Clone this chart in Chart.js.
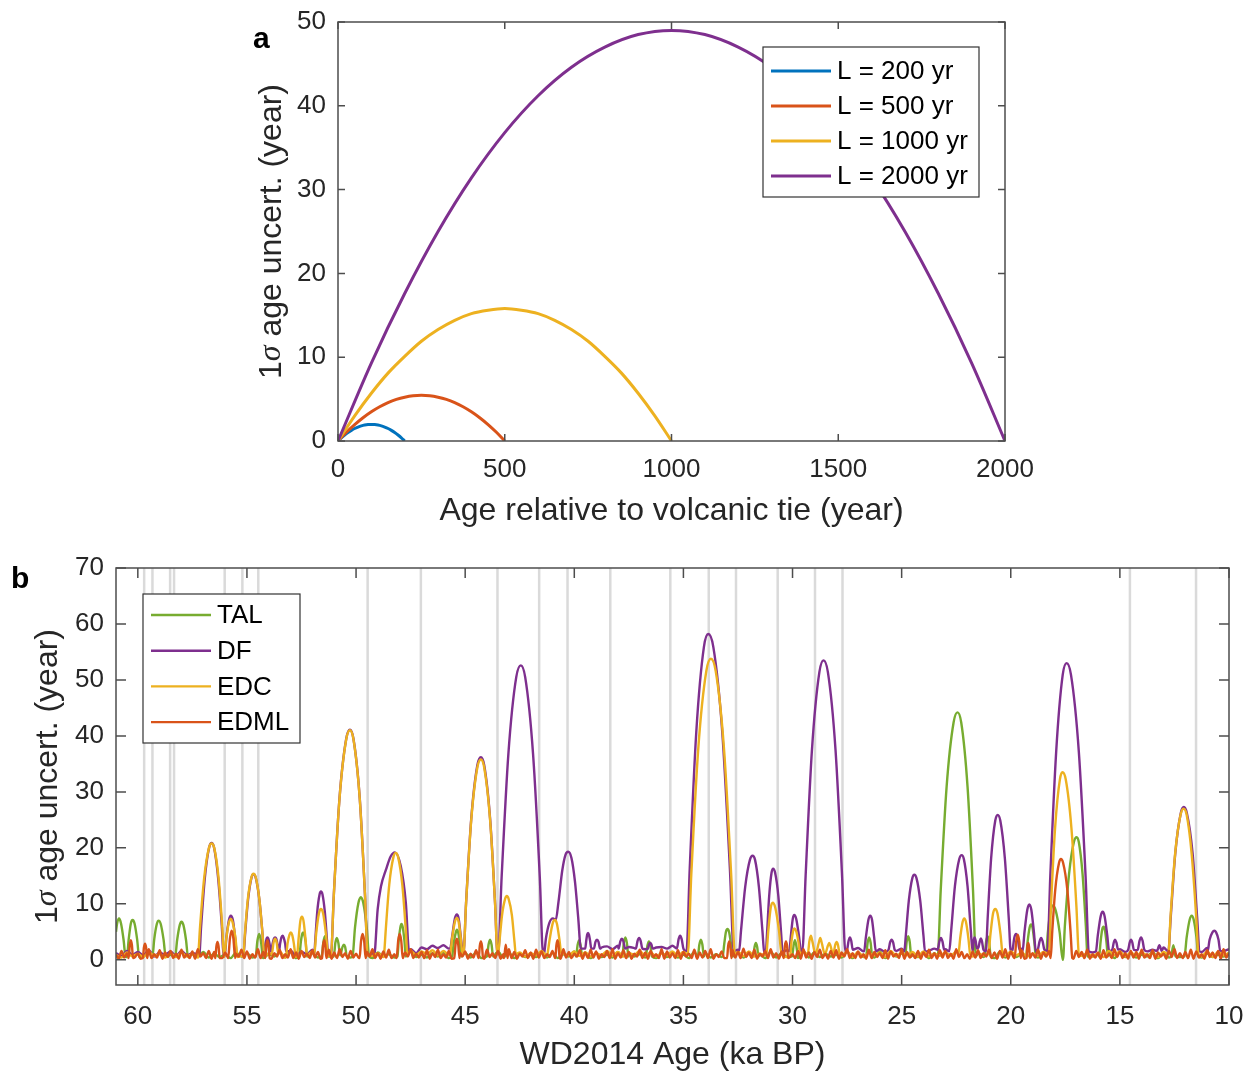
<!DOCTYPE html>
<html>
<head>
<meta charset="utf-8">
<script src="https://cdn.jsdelivr.net/npm/chart.js@4.4.0/dist/chart.umd.min.js"></script>
<style>
  body { margin: 0; background: #fff; }
  #wrap { position: relative; width: 1253px; height: 1075px; }
  canvas { position: absolute; left: 0; }
</style>
</head>
<body>
<div id="wrap">
  <canvas id="chartA" width="1253" height="540" style="top:0"></canvas>
  <canvas id="chartB" width="1253" height="535" style="top:540px"></canvas>
</div>
<script>
// ---------- panel a: uncertainty between two volcanic ties ----------
const tieAge200 = [0,10,20,30,40,50,60,70,80,90,100,110,120,130,140,150,160,170,180,190,200];
const sigma200 = [0,0.38,0.71,1.01,1.27,1.49,1.66,1.80,1.90,1.96,1.98,1.96,1.90,1.80,1.66,1.49,1.27,1.01,0.71,0.38,0];
const tieAge500 = [0,25,50,75,100,125,150,175,200,225,250,275,300,325,350,375,400,425,450,475,500];
const sigma500 = [0,1.04,1.96,2.78,3.49,4.09,4.58,4.96,5.23,5.40,5.45,5.40,5.23,4.96,4.58,4.09,3.49,2.78,1.96,1.04,0];
const tieAge1000 = [0,50,100,150,200,250,300,350,400,450,500,550,600,650,700,750,800,850,900,950,1000];
const sigma1000 = [0,3.0,5.7,8.1,10.1,11.9,13.3,14.4,15.2,15.6,15.8,15.6,15.2,14.4,13.3,11.9,10.1,8.1,5.7,3.0,0];
const tieAge2000 = [0,100,200,300,400,500,600,700,800,900,1000,1100,1200,1300,1400,1500,1600,1700,1800,1900,2000];
const sigma2000 = [0,9.3,17.6,25.0,31.4,36.8,41.2,44.6,47.0,48.5,49.0,48.5,47.0,44.6,41.2,36.8,31.4,25.0,17.6,9.3,0];
const legendA = ["L = 200 yr", "L = 500 yr", "L = 1000 yr", "L = 2000 yr"];
const xTicksA = [0, 500, 1000, 1500, 2000];
const yTicksA = [0, 10, 20, 30, 40, 50];

// ---------- panel b: uncertainty along WD2014 ----------
const xTicksB = [60, 55, 50, 45, 40, 35, 30, 25, 20, 15, 10];
const yTicksB = [0, 10, 20, 30, 40, 50, 60, 70];
const legendB = ["TAL", "DF", "EDC", "EDML"];
// ages of the volcanic tie points (grey lines)
const tieAges = [59.71,59.33,58.52,58.34,56.02,55.21,54.48,49.47,47.03,43.52,41.61,40.31,38.35,35.6,33.84,32.59,30.68,28.97,27.71,14.54,11.51];

// background noise, sampled from 61 ka down to 10 ka
const baseStart = 61;
const edmlStep = 0.125;
const edmlBase = [
  0.9,0.2,1.6,0.4,1.2,0.3,1.8,0.5, 1.1,0.2,1.5,0.6,1.9,0.3,1.0,0.4,
  1.7,0.2,1.3,0.5,1.6,0.3,1.1,0.2, 1.8,0.4,1.0,0.3,1.5,0.2,1.9,0.6,
  1.2,0.3,1.6,0.2,1.4,0.5,2.0,0.3, 1.3,0.4,1.7,0.2,1.1,0.6,1.8,0.3,
  1.5,0.2,1.0,0.4,1.9,0.3,1.4,0.5, 1.6,0.2,1.2,0.6,1.8,0.3,1.0,0.4,
  1.9,0.3,1.3,0.2,1.6,0.5,1.1,0.3, 1.7,0.4,1.4,0.2,1.0,0.6,1.8,0.2,
  1.3,0.3,1.9,0.5,1.2,0.2,1.6,0.4, 1.1,0.3,1.7,0.2,1.4,0.6,1.9,0.3,
  1.2,0.2,1.5,0.4,1.8,0.3,1.0,0.5, 1.6,0.2,1.3,0.6,1.9,0.3,1.1,0.4,
  1.4,0.3,1.7,0.2,1.2,0.5,1.8,0.3, 1.0,0.4,1.6,0.2,1.9,0.3,1.3,0.6,
  1.5,0.2,1.1,0.4,1.7,0.3,1.4,0.2, 1.8,0.5,1.2,0.3,1.6,0.2,1.0,0.4,
  1.9,0.3,1.4,0.2,1.1,0.6,1.7,0.3, 1.3,0.2,1.8,0.4,1.5,0.3,1.0,0.5,
  1.6,0.3,1.2,0.2,1.9,0.4,1.4,0.3, 1.1,0.6,1.7,0.2,1.3,0.3,1.8,0.4,
  1.5,0.2,1.0,0.5,1.6,0.3,1.9,0.2, 1.2,0.4,1.7,0.3,1.4,0.2,1.1,0.6,
  1.8,0.3,1.3,0.2,1.6,0.5,1.0,0.3, 1.9,0.2,1.5,0.4,1.2,0.3,1.7,0.2,
  1.4,0.6,1.1,0.3,1.8,0.2,1.3,0.4, 1.6,0.3,1.9,0.2,1.0,0.5,1.5,0.3,
  1.2,0.2,1.7,0.4,1.4,0.3,2.0,0.5, 1.3,0.3,1.8,0.2,1.1,0.6,1.6,0.3,
  1.9,0.4,1.2,0.2,1.5,0.3,1.7,0.5, 1.0,0.3,1.6,0.2,1.9,0.4,1.3,0.2,
  1.4,0.5,1.8,0.3,1.1,0.2,1.6,0.4, 1.7,0.2,1.3,0.6,1.9,0.3,1.2,0.3,
  1.5,0.4,1.0,0.2,1.8,0.3,1.4,0.5, 1.2,0.3,1.7,0.2,1.5,0.6,1.1,0.3,
  1.9,0.2,1.4,0.4,1.0,0.3,1.6,0.2, 1.3,0.5,1.8,0.3,1.2,0.2,1.7,0.4,
  1.6,0.3,1.1,0.2,1.9,0.5,1.4,0.3, 1.0,0.2,1.5,0.4,1.7,0.3,1.2,0.6,
  1.8,0.3,1.3,0.2,1.6,0.4,1.9,0.2, 1.4,0.5,1.0,0.3,1.7,0.2,1.5,0.3,
  1.2,0.4,1.8,0.2,1.3,0.6,1.6,0.3, 1.9,0.2,1.1,0.3,1.5,0.4,1.2,0.2,
  1.6,0.5,1.4,0.3,1.8,0.2,1.0,0.4, 1.3,0.2,1.7,0.4,1.1,0.3,1.9,0.5,
  1.5,0.3,1.2,0.2,1.6,0.4,1.4,0.2, 1.8,0.4,1.0,0.3,1.7,0.2,1.3,0.6,
  1.1,0.2,1.6,0.5,1.9,0.3,1.2,0.3, 1.4,0.3,1.8,0.2,1.5,0.4,1.0,0.2,
  1.7,0.5,1.3,0.3,1.6,0.2,1.9,0.4, 1.2
];
const otherStep = 0.25;
const talBase = [
  1.0,0.5,1.3,0.4, 1.1,0.6,1.4,0.3, 1.2,0.5,0.9,0.4, 1.3,0.3,1.0,0.6, 1.4,0.4,1.1,0.5,
  0.9,0.3,1.3,0.6, 1.2,0.4,1.5,0.3, 1.0,0.6,1.3,0.4, 1.4,0.3,1.1,0.5, 1.2,0.4,0.9,0.6,
  1.5,0.3,1.2,0.4, 1.0,0.5,1.4,0.3, 1.3,0.6,1.0,0.4, 1.1,0.3,1.5,0.5, 0.9,0.4,1.2,0.6,
  1.4,0.3,1.0,0.5, 1.2,0.4,1.3,0.3, 1.0,0.6,1.5,0.4, 1.3,0.3,1.1,0.5, 0.9,0.5,1.4,0.4,
  1.2,0.3,1.0,0.6, 1.5,0.4,1.3,0.3, 1.1,0.5,0.9,0.4, 1.4,0.3,1.2,0.6, 1.0,0.4,1.5,0.3,
  1.3,0.5,1.1,0.4, 0.9,0.3,1.4,0.6, 1.2,0.4,1.0,0.5, 1.5,0.3,1.3,0.4, 1.1,0.6,0.9,0.3,
  1.4,0.4,1.2,0.5, 1.0,0.3,1.5,0.4, 1.3,0.5,1.1,0.6, 0.9,0.4,1.4,0.3, 1.2,0.5,1.0,0.4,
  1.5,0.3,1.3,0.6, 1.1,0.4,0.9,0.5, 1.4,0.3,1.2,0.4, 1.0,0.6,1.5,0.3, 1.3,0.4,1.1,0.5,
  0.9,0.3,1.4,0.4, 1.2,0.5,1.0,0.6, 1.5,0.4,1.3,0.3, 1.1,0.5,0.9,0.4, 1.4,0.3,1.2,0.6,
  1.0,0.4,1.5,0.3, 1.3,0.5,1.1,0.4, 0.9,0.6,1.4,0.3, 1.2,0.4,1.0,0.5, 1.5,0.3,1.3,0.4,
  1.1,0.5,0.9,0.6, 1.0
];
const dfBase = [
  1.2,0.7,1.6,0.9, 1.4,0.8,1.7,0.6, 1.3,0.9,1.5,0.7, 1.6,0.8,1.2,0.9, 1.5,0.7,1.8,0.8,
  1.3,0.9,1.6,0.7, 1.7,0.8,1.4,0.9, 1.5,1.0,1.8,0.8, 1.6,0.9,1.4,1.0, 1.8,0.8,1.5,0.9,
  1.4,1.0,1.7,0.8, 1.6,0.9,1.3,1.0, 1.5,0.8,1.7,1.0, 1.6,1.1,1.9,1.2, 2.2,1.9,2.5,2.1,
  2.6,2.0,2.4,2.2, 2.5,1.9,2.3,2.0, 2.4,2.1,2.6,1.9, 2.3,2.0,2.5,2.2, 2.4,1.9,2.6,2.1,
  2.2,2.0,2.5,1.9, 2.4,2.1,2.3,2.0, 2.6,2.2,2.4,1.9, 2.5,2.0,2.3,2.1, 2.4,1.9,2.6,2.2,
  2.3,2.0,2.5,1.9, 2.2,1.8,2.3,1.7, 1.9,1.4,2.1,1.6, 2.0,1.5,1.8,1.3, 2.1,1.6,1.9,1.4,
  2.2,1.5,2.0,1.7, 1.8,1.3,2.1,1.6, 2.0,1.4,1.9,1.5, 2.2,1.6,1.8,1.4, 2.1,1.5,2.3,1.7,
  1.9,1.4,2.2,1.6, 2.0,1.5,1.8,1.3, 2.2,1.6,2.0,1.4, 1.9,1.5,2.1,1.7, 2.0,1.4,1.8,1.6,
  2.2,1.5,1.9,1.3, 2.1,1.6,2.0,1.4, 1.8,1.5,2.2,1.7, 2.0,1.4,1.9,1.6, 2.1,1.5,1.8,1.3,
  2.2,1.6,2.0,1.5, 1.9,1.4,2.1,1.7, 2.0,1.5,1.8,1.6, 2.2,1.7,2.1,1.5, 1.9,1.6,2.0,1.4,
  2.1,1.5,2.3,1.6, 1.9
];
const edcBase = [
  0.9,0.4,1.3,0.6, 1.1,0.5,1.4,0.7, 1.0,0.4,1.2,0.5, 1.3,0.6,1.0,0.4, 1.2,0.5,1.5,0.6,
  1.0,0.4,1.3,0.7, 1.4,0.5,1.1,0.6, 1.2,0.7,1.5,0.4, 1.3,0.5,1.0,0.6, 1.5,0.4,1.2,0.7,
  1.1,0.6,1.4,0.5, 1.3,0.4,1.0,0.7, 1.2,0.5,1.5,0.6, 1.4,0.7,1.6,0.9, 1.5,1.0,1.7,0.8,
  1.6,0.9,1.4,1.0, 1.3,0.7,1.5,0.8, 1.4,0.6,1.2,0.9, 1.5,0.7,1.3,0.6, 1.2,0.8,1.6,0.7,
  1.4,0.6,1.1,0.8, 1.5,0.7,1.3,0.6, 1.2,0.8,1.6,0.7, 1.4,0.6,1.2,0.9, 1.6,0.7,1.3,0.6,
  1.1,0.8,1.5,0.7, 1.4,0.6,1.2,0.8, 1.3,0.7,1.5,0.6, 1.2,0.5,1.4,0.7, 1.5,0.6,1.1,0.8,
  1.3,0.7,1.6,0.5, 1.2,0.6,1.4,0.7, 1.5,0.8,1.3,0.6, 1.1,0.7,1.5,0.5, 1.4,0.6,1.2,0.8,
  1.3,0.5,1.6,0.7, 1.2,0.8,1.4,0.6, 1.5,0.6,1.1,0.7, 1.3,0.7,1.5,0.5, 1.4,0.6,1.2,0.8,
  1.2,0.5,1.6,0.7, 1.5,0.8,1.3,0.6, 1.1,0.7,1.4,0.5, 1.3,0.6,1.5,0.8, 1.4,0.7,1.2,0.6,
  1.2,0.5,1.6,0.8, 1.5,0.6,1.3,0.7, 1.3,0.8,1.1,0.5, 1.4,0.6,1.5,0.7, 1.2,0.7,1.3,0.6,
  1.5,0.5,1.4,0.8, 1.3
];

// peaks: [age ka, 1 sigma yr]
const talPeaks = [
  [[61.0,5.0],[60.95,6.5],[60.86,7.4],[60.77,6.5],[60.65,3.5],[60.56,0.5]],
  [[60.50,0.5],[60.42,3.6],[60.32,6.5],[60.24,7.1],[60.15,6.5],[60.03,3.6],[59.94,0.5]],
  [[59.33,0.5],[59.25,3.6],[59.13,6.4],[59.05,7.0],[58.95,6.4],[58.82,3.6],[58.72,0.5]],
  [[58.29,0.5],[58.20,3.5],[58.08,6.2],[58.00,6.8],[57.91,6.2],[57.79,3.5],[57.70,0.5]],
  [[54.60,0.6],[54.52,3.4],[54.44,4.6],[54.36,3.4],[54.28,0.6]],
  [[52.60,0.6],[52.53,3.2],[52.47,4.6],[52.43,4.9],[52.38,4.6],[52.31,3.2],[52.25,0.6]],
  [[51.58,0.6],[51.50,3.1],[51.43,4.2],[51.36,3.1],[51.28,0.6]],
  [[51.02,0.6],[50.95,3.0],[50.88,3.9],[50.81,3.0],[50.73,0.8],[50.62,2.3],[50.56,2.7],[50.50,2.3],[50.42,0.6]],
  [[50.16,0.6],[50.05,5.7],[49.89,10.2],[49.78,11.2],[49.67,10.2],[49.51,5.7],[49.40,0.6]],
  [[48.10,0.6],[48.05,3.3],[47.97,5.8],[47.92,6.4],[47.86,5.8],[47.78,3.3],[47.72,0.6]],
  [[45.60,0.6],[45.53,2.8],[45.43,4.9],[45.38,5.4],[45.32,4.9],[45.24,2.8],[45.18,0.6]],
  [[44.00,0.6],[43.93,2.7],[43.86,3.6],[43.79,2.7],[43.72,0.6]],
  [[39.92,0.6],[39.85,2.6],[39.78,3.5],[39.71,2.6],[39.64,0.6]],
  [[37.80,0.6],[37.73,3.0],[37.66,4.0],[37.59,3.0],[37.52,0.6]],
  [[36.72,0.6],[36.65,2.5],[36.58,3.3],[36.51,2.5],[36.44,0.6]],
  [[34.34,0.6],[34.27,2.7],[34.20,3.6],[34.13,2.7],[34.06,0.6]],
  [[33.20,0.6],[33.13,2.8],[33.05,5.0],[32.98,5.5],[32.91,5.0],[32.82,2.8],[32.75,0.6]],
  [[31.80,0.6],[31.74,2.3],[31.68,3.0],[31.62,2.3],[31.56,0.6]],
  [[30.02,0.6],[29.95,2.6],[29.89,3.5],[29.83,2.6],[29.76,0.6]],
  [[26.63,0.6],[26.56,3.0],[26.49,4.0],[26.42,3.0],[26.35,0.6]],
  [[24.84,0.6],[24.77,3.2],[24.70,4.2],[24.63,3.2],[24.56,0.6]],
  [[23.35,0.6],[23.21,12.4],[22.94,30.9],[22.62,42.4],[22.44,44.2],[22.27,42.4],[21.98,30.9],[21.73,12.4],[21.60,0.6]],
  [[21.20,0.6],[21.13,3.2],[21.06,4.2],[20.99,3.2],[20.92,0.6]],
  [[19.30,0.6],[19.23,3.2],[19.14,5.7],[19.07,6.3],[19.00,5.7],[18.92,3.2],[18.85,0.6]],
  [[18.39,0.6],[18.30,4.9],[18.17,8.8],[18.08,9.7],[17.94,8.8],[17.76,4.9],[17.62,0]],
  [[17.61,0],[17.52,6.1],[17.33,15.3],[17.11,21.0],[16.98,21.9],[16.88,21.0],[16.71,15.3],[16.56,6.1],[16.48,0.6]],
  [[15.95,0.6],[15.89,3.0],[15.81,5.4],[15.75,5.9],[15.69,5.4],[15.61,3.0],[15.55,0.6]],
  [[12.65,0.6],[12.55,2.6],[12.45,0.6]],
  [[12.04,0.6],[11.94,4.0],[11.80,7.2],[11.71,7.9],[11.62,7.2],[11.49,4.0],[11.40,0.6]]
];
const dfPeaks = [
  [[57.19,0.6],[57.10,5.9],[56.93,14.6],[56.73,20.1],[56.62,20.9],[56.51,20.1],[56.32,14.6],[56.15,5.9],[56.07,0.6]],
  [[56.02,0.6],[55.94,4.0],[55.82,7.2],[55.74,7.9],[55.65,7.2],[55.54,4.0],[55.45,0.6]],
  [[55.16,0.6],[55.09,4.3],[54.95,10.7],[54.79,14.7],[54.70,15.3],[54.60,14.7],[54.43,10.7],[54.28,4.3],[54.21,0.6]],
  [[54.18,1.5],[54.14,2.8],[54.10,3.8],[54.06,4.0],[54.02,3.8],[53.96,2.8],[53.92,1.5]],
  [[53.88,1.5],[53.83,2.8],[53.76,3.8],[53.71,4.0],[53.66,3.8],[53.60,2.8],[53.55,1.5]],
  [[53.53,1.5],[53.48,2.9],[53.42,4.0],[53.37,4.3],[53.32,4.0],[53.25,2.9],[53.20,1.5]],
  [[51.92,0.8],[51.87,3.4],[51.78,8.5],[51.67,11.7],[51.61,12.2],[51.54,11.7],[51.43,8.5],[51.33,3.4],[51.28,0.8]],
  [[51.15,0.8],[51.02,11.5],[50.76,28.8],[50.45,39.5],[50.28,41.1],[50.12,39.5],[49.83,28.8],[49.59,11.5],[49.47,0.8]],
  [[49.17,0.8],[49.01,9.0],[48.86,13.1],[48.63,16.1],[48.41,18.5],[48.22,19.2],[47.95,16.7],[47.72,10.2],[47.57,1.5]],
  [[45.69,2.0],[45.60,4.1],[45.47,7.4],[45.38,8.1],[45.30,7.4],[45.20,4.1],[45.12,1.5]],
  [[45.08,1.0],[44.96,10.1],[44.72,25.3],[44.44,34.8],[44.28,36.2],[44.13,34.8],[43.86,25.3],[43.63,10.1],[43.52,1.0]],
  [[43.49,1.0],[43.33,14.7],[43.02,36.8],[42.66,50.5],[42.45,52.6],[42.25,50.5],[41.89,36.8],[41.58,14.7],[41.43,1.0]],
  [[41.38,1.2],[41.30,3.8],[41.15,6.5],[40.98,7.4],[40.85,7.1],[40.72,10.5],[40.55,16.0],[40.40,18.8],[40.28,19.3],[40.13,18.2],[39.97,14.0],[39.82,7.5],[39.70,2.0]],
  [[39.50,2.0],[39.45,3.5],[39.41,4.5],[39.37,4.8],[39.33,4.5],[39.28,3.5],[39.22,2.0]],
  [[39.10,2.0],[39.03,3.2],[38.96,3.6],[38.89,3.2],[38.82,2.0]],
  [[37.97,2.0],[37.89,3.3],[37.82,3.75],[37.75,3.3],[37.67,2.0]],
  [[37.18,2.0],[37.10,3.4],[37.03,3.9],[36.96,3.4],[36.88,2.0]],
  [[36.63,2.0],[36.57,2.8],[36.52,3.0],[36.47,2.8],[36.41,2.0]],
  [[35.30,2.0],[35.22,3.7],[35.15,4.3],[35.08,3.7],[35.00,2.0]],
  [[34.86,1.5],[34.71,16.3],[34.41,40.7],[34.06,55.9],[33.86,58.2],[33.63,55.9],[33.22,40.7],[32.87,16.3],[32.69,1.5]],
  [[32.45,1.5],[32.36,5.2],[32.17,13.0],[31.95,17.9],[31.83,18.6],[31.72,17.9],[31.54,13.0],[31.38,5.2],[31.30,1.5]],
  [[31.22,1.5],[31.17,4.6],[31.07,11.4],[30.96,15.6],[30.89,16.3],[30.80,15.6],[30.65,11.4],[30.52,4.6],[30.46,1.5]],
  [[30.15,1.5],[30.08,4.1],[29.99,7.3],[29.92,8.0],[29.83,7.3],[29.70,4.1],[29.61,1.5]],
  [[29.55,1.5],[29.40,15.0],[29.11,37.5],[28.77,51.4],[28.58,53.5],[28.38,51.4],[28.03,37.5],[27.73,15.0],[27.58,1.5]],
  [[27.50,1.8],[27.43,3.4],[27.37,4.0],[27.31,3.4],[27.24,1.8]],
  [[26.72,1.5],[26.64,4.0],[26.52,7.2],[26.44,7.9],[26.36,7.2],[26.26,4.0],[26.18,1.5]],
  [[25.60,1.8],[25.53,3.1],[25.46,3.6],[25.39,3.1],[25.32,1.8]],
  [[24.88,1.5],[24.81,4.3],[24.67,10.6],[24.51,14.6],[24.42,15.2],[24.32,14.6],[24.15,10.6],[24.00,4.3],[23.93,1.5]],
  [[23.35,1.8],[23.27,3.3],[23.20,3.9],[23.13,3.3],[23.05,1.8]],
  [[22.82,1.5],[22.73,5.2],[22.56,13.1],[22.36,18.0],[22.25,18.7],[22.15,18.0],[21.98,13.1],[21.83,5.2],[21.75,1.5]],
  [[21.74,1.8],[21.70,3.4],[21.66,4.0],[21.61,3.4],[21.55,2.0],[21.48,2.2],[21.42,3.3],[21.37,3.8],[21.32,3.3],[21.25,1.8]],
  [[21.14,1.5],[21.06,7.3],[20.90,18.1],[20.71,24.9],[20.60,25.9],[20.48,24.9],[20.27,18.1],[20.09,7.3],[20.00,1.5]],
  [[19.92,1.8],[19.84,3.9],[19.76,4.6],[19.68,3.9],[19.60,1.8]],
  [[19.46,1.5],[19.37,5.0],[19.24,9.0],[19.15,9.9],[19.06,9.0],[18.94,5.0],[18.85,1.5]],
  [[18.76,1.8],[18.68,3.3],[18.61,3.9],[18.54,3.3],[18.46,1.8]],
  [[18.32,1.5],[18.19,14.8],[17.92,37.1],[17.62,50.9],[17.44,53.0],[17.24,50.9],[16.88,37.1],[16.57,14.8],[16.42,1.5]],
  [[16.10,1.5],[16.01,4.4],[15.88,7.8],[15.79,8.6],[15.70,7.8],[15.58,4.4],[15.49,1.5]],
  [[15.35,1.8],[15.28,3.1],[15.22,3.6],[15.16,3.1],[15.08,1.8]],
  [[14.62,1.8],[14.55,3.1],[14.49,3.6],[14.43,3.1],[14.36,1.8]],
  [[14.18,1.8],[14.10,3.4],[14.03,4.0],[13.96,3.4],[13.88,1.8]],
  [[13.30,1.6],[13.19,2.6],[13.08,1.6]],
  [[12.78,1.5],[12.67,7.6],[12.46,19.1],[12.21,26.2],[12.07,27.3],[11.93,26.2],[11.67,19.1],[11.46,7.6],[11.35,1.5]],
  [[10.98,1.5],[10.89,3.6],[10.76,4.9],[10.67,5.2],[10.59,4.9],[10.48,3.6],[10.40,1.5]]
];
const edcPeaks = [
  [[57.24,0.5],[57.15,5.8],[56.96,14.6],[56.74,20.0],[56.62,20.8],[56.50,20.0],[56.30,14.6],[56.13,5.8],[56.05,0.5]],
  [[56.04,0.5],[55.95,3.7],[55.83,6.6],[55.74,7.3],[55.65,6.6],[55.52,3.7],[55.43,0.5]],
  [[55.17,0.5],[55.10,4.3],[54.96,10.8],[54.79,14.8],[54.70,15.4],[54.60,14.8],[54.43,10.8],[54.28,4.3],[54.20,0.5]],
  [[53.86,1.0],[53.78,3.1],[53.71,3.75],[53.64,3.1],[53.56,1.0]],
  [[53.20,0.8],[53.14,2.9],[53.05,4.5],[52.99,4.9],[52.93,4.5],[52.85,2.9],[52.78,0.8]],
  [[52.70,0.8],[52.63,3.9],[52.55,7.0],[52.48,7.7],[52.41,7.0],[52.32,3.9],[52.25,0.8]],
  [[51.92,0.8],[51.83,4.6],[51.70,8.3],[51.61,9.1],[51.51,8.3],[51.38,4.6],[51.28,0.8]],
  [[51.15,0.8],[51.02,11.5],[50.76,28.7],[50.45,39.4],[50.28,41.0],[50.12,39.4],[49.83,28.7],[49.59,11.5],[49.47,0.8]],
  [[48.72,0.8],[48.64,5.3],[48.48,13.4],[48.29,18.3],[48.18,19.1],[48.07,18.3],[47.88,13.4],[47.72,5.3],[47.64,0.8]],
  [[45.69,1.0],[45.60,3.8],[45.47,6.8],[45.38,7.5],[45.30,6.8],[45.20,3.8],[45.12,1.0]],
  [[45.08,1.0],[44.96,10.0],[44.72,25.1],[44.44,34.4],[44.28,35.8],[44.13,34.4],[43.86,25.1],[43.63,10.0],[43.52,1.0]],
  [[43.49,1.0],[43.43,3.2],[43.31,8.0],[43.17,10.9],[43.09,11.4],[43.01,10.9],[42.86,8.0],[42.74,3.2],[42.68,1.0]],
  [[41.23,1.0],[41.13,3.6],[40.99,6.5],[40.89,7.1],[40.80,6.5],[40.68,3.6],[40.59,1.0]],
  [[34.80,1.0],[34.64,15.1],[34.32,37.7],[33.95,51.6],[33.74,53.8],[33.52,51.6],[33.14,37.7],[32.81,15.1],[32.64,1.0]],
  [[31.20,1.0],[31.11,5.2],[31.00,9.3],[30.91,10.2],[30.79,9.3],[30.62,5.2],[30.50,1.0]],
  [[30.10,1.0],[30.05,3.2],[29.97,5.2],[29.92,5.6],[29.84,5.2],[29.73,3.2],[29.65,1.0]],
  [[29.30,1.0],[29.23,3.3],[29.16,4.3],[29.09,3.3],[28.95,1.0],[28.80,3.0],[28.73,3.9],[28.66,3.0],[28.52,1.0],[28.38,2.5],[28.32,3.0],[28.26,2.5],[28.14,1.0],[28.04,2.7],[27.98,3.2],[27.92,2.7],[27.84,1.0]],
  [[22.40,1.0],[22.32,3.8],[22.21,6.7],[22.13,7.4],[22.05,6.7],[21.94,3.8],[21.86,1.0]],
  [[21.03,1.0],[20.93,4.6],[20.81,8.3],[20.71,9.1],[20.61,8.3],[20.47,4.6],[20.37,1.0]],
  [[18.25,1.0],[18.16,9.4],[17.97,23.5],[17.75,32.2],[17.63,33.5],[17.48,32.2],[17.22,23.5],[16.99,9.4],[16.88,1.0]],
  [[12.78,1.0],[12.68,7.6],[12.47,18.9],[12.22,25.9],[12.08,27.0],[11.94,25.9],[11.71,18.9],[11.50,7.6],[11.40,1.0]]
];
const edmlPeaks = [
  [[60.42,0.3],[60.37,2.6],[60.32,3.5],[60.27,2.6],[60.22,0.3]],
  [[59.77,0.3],[59.72,2.2],[59.67,2.9],[59.62,2.2],[59.57,0.3]],
  [[56.45,0.3],[56.40,2.4],[56.35,3.2],[56.30,2.4],[56.25,0.3]],
  [[55.86,0.3],[55.78,3.8],[55.70,5.2],[55.62,3.8],[55.54,0.3]],
  [[54.16,0.3],[54.11,2.6],[54.06,3.5],[54.01,2.6],[53.96,0.3]],
  [[51.56,0.3],[51.51,2.6],[51.46,3.5],[51.41,2.6],[51.36,0.3]],
  [[49.84,0.3],[49.77,3.4],[49.70,4.6],[49.63,3.4],[49.56,0.3]],
  [[48.14,0.3],[48.07,3.4],[48.00,4.6],[47.93,3.4],[47.86,0.3]],
  [[45.50,0.3],[45.44,2.8],[45.38,3.75],[45.32,2.8],[45.26,0.3]],
  [[44.38,0.3],[44.33,2.5],[44.28,3.3],[44.23,2.5],[44.18,0.3]],
  [[43.22,0.3],[43.14,2.7],[43.06,0.3]],
  [[40.87,0.3],[40.82,2.6],[40.77,3.5],[40.72,2.6],[40.67,0.3]],
  [[33.00,0.3],[32.95,2.5],[32.90,3.3],[32.85,2.5],[32.80,0.3]],
  [[30.40,0.3],[30.35,2.5],[30.30,3.3],[30.25,2.5],[30.20,0.3]],
  [[19.82,0.3],[19.75,3.3],[19.68,4.5],[19.61,3.3],[19.54,0.3]],
  [[19.28,0.3],[19.24,2.3],[19.20,3.0],[19.16,2.3],[19.12,0.3]],
  [[18.17,0.3],[18.10,5.0],[17.96,12.6],[17.79,17.3],[17.70,18.0],[17.60,17.3],[17.41,12.6],[17.26,5.0],[17.18,0.3]]
];

// ---------- helpers ----------
const FONT = '"Liberation Sans", Arial, Helvetica, sans-serif';
const AXIS = '#262626';
const COLORS = { blue: '#0072BD', red: '#D95319', yellow: '#EDB120', purple: '#7E2F8E', green: '#77AC30' };

function pairs(xs, ys) { return xs.map((x, i) => ({ x: x, y: ys[i] })); }

// background samples outside the peaks + the peak points themselves
function buildSeries(base, step, peaks) {
  const pts = [];
  base.forEach((v, i) => {
    const age = baseStart - i * step;
    const inPeak = peaks.some(p => age <= p[0][0] + 1e-6 && age >= p[p.length - 1][0] - 1e-6);
    if (!inPeak) pts.push({ x: age, y: v });
  });
  peaks.forEach(p => p.forEach(([a, v]) => pts.push({ x: a, y: v })));
  pts.sort((a, b) => b.x - a.x);
  return pts;
}

function drawYTitle(ctx, cx, cy) {
  const parts = [['1', '32px ' + FONT], ['\u03C3', 'italic 32px "Liberation Serif", "DejaVu Serif", serif'], [' age uncert. (year)', '32px ' + FONT]];
  ctx.save();
  ctx.translate(cx, cy);
  ctx.rotate(-Math.PI / 2);
  ctx.fillStyle = AXIS;
  ctx.textBaseline = 'middle';
  ctx.textAlign = 'left';
  let total = 0;
  parts.forEach(p => { ctx.font = p[1]; total += ctx.measureText(p[0]).width; });
  let xx = -total / 2;
  parts.forEach(p => { ctx.font = p[1]; ctx.fillText(p[0], xx, 0); xx += ctx.measureText(p[0]).width; });
  ctx.restore();
}

function axesFrame(cfg) {
  return {
    id: 'axesFrame',
    beforeDatasetsDraw(chart) {
      if (!cfg.vlines) return;
      const { ctx, chartArea: { top, bottom }, scales: { x } } = chart;
      ctx.save();
      ctx.strokeStyle = '#dadada';
      ctx.lineWidth = 2.5;
      cfg.vlines.forEach(a => {
        const px = x.getPixelForValue(a);
        ctx.beginPath(); ctx.moveTo(px, top); ctx.lineTo(px, bottom); ctx.stroke();
      });
      ctx.restore();
    },
    afterDraw(chart) {
      const { ctx, chartArea: { left, right, top, bottom }, scales: { x, y } } = chart;
      ctx.save();
      // box + inward ticks on all sides
      ctx.strokeStyle = '#4d4d4d';
      ctx.lineWidth = 1.5;
      ctx.strokeRect(left, top, right - left, bottom - top);
      ctx.beginPath();
      cfg.xTicks.forEach(v => {
        const px = x.getPixelForValue(v);
        ctx.moveTo(px, bottom); ctx.lineTo(px, bottom - cfg.tickLen);
        ctx.moveTo(px, top); ctx.lineTo(px, top + cfg.tickLen);
      });
      cfg.yTicks.forEach(v => {
        const py = y.getPixelForValue(v);
        ctx.moveTo(left, py); ctx.lineTo(left + cfg.tickLen, py);
        ctx.moveTo(right, py); ctx.lineTo(right - cfg.tickLen, py);
      });
      ctx.stroke();

      // tick labels
      ctx.fillStyle = AXIS;
      ctx.font = '26px ' + FONT;
      ctx.textBaseline = 'middle';
      ctx.textAlign = 'center';
      cfg.xTicks.forEach(v => ctx.fillText(String(v), x.getPixelForValue(v), bottom + cfg.xLabelGap));
      ctx.textAlign = 'right';
      cfg.yTicks.forEach(v => ctx.fillText(String(v), left - cfg.yLabelGap, y.getPixelForValue(v)));

      // axis titles
      ctx.font = '32px ' + FONT;
      ctx.textAlign = 'center';
      ctx.fillText(cfg.xTitle, (left + right) / 2, bottom + 70);
      drawYTitle(ctx, left - cfg.yTitleGap, (top + bottom) / 2);

      // panel letter
      ctx.fillStyle = '#000';
      ctx.font = 'bold 30px ' + FONT;
      ctx.textAlign = 'left';
      ctx.textBaseline = 'alphabetic';
      ctx.fillText(cfg.letter[0], cfg.letter[1], cfg.letter[2]);

      // legend
      const lg = cfg.legend;
      ctx.fillStyle = '#fff';
      ctx.fillRect(lg.x, lg.y, lg.w, lg.h);
      ctx.strokeStyle = '#333';
      ctx.lineWidth = 1.2;
      ctx.strokeRect(lg.x, lg.y, lg.w, lg.h);
      ctx.font = '26px ' + FONT;
      ctx.textBaseline = 'middle';
      lg.items.forEach((it, i) => {
        const ry = lg.y + lg.first + i * lg.gap;
        ctx.strokeStyle = it.color;
        ctx.lineWidth = lg.lw;
        ctx.beginPath(); ctx.moveTo(lg.x + 8, ry); ctx.lineTo(lg.x + 68, ry); ctx.stroke();
        ctx.fillStyle = '#000';
        ctx.fillText(it.label, lg.x + 74, ry + 1);
      });
      ctx.restore();
    }
  };
}

const baseOptions = (pad, xs, ys) => ({
  responsive: false,
  animation: false,
  layout: { padding: pad },
  plugins: { legend: { display: false }, tooltip: { enabled: false } },
  elements: { point: { radius: 0 }, line: { cubicInterpolationMode: 'monotone' } },
  scales: { x: Object.assign({ type: 'linear', display: false }, xs), y: Object.assign({ type: 'linear', display: false }, ys) }
});

// ---------- chart a ----------
const colorsA = [COLORS.blue, COLORS.red, COLORS.yellow, COLORS.purple];
const seriesA = [pairs(tieAge200, sigma200), pairs(tieAge500, sigma500), pairs(tieAge1000, sigma1000), pairs(tieAge2000, sigma2000)];
const dsA = seriesA.map((d, i) => ({ label: legendA[i], data: d, borderColor: colorsA[i], borderWidth: 3, fill: false })).reverse();

new Chart(document.getElementById('chartA'), {
  type: 'line',
  data: { datasets: dsA },
  options: baseOptions({ left: 338, top: 22, right: 248, bottom: 99 }, { min: 0, max: 2000 }, { min: 0, max: 50 }),
  plugins: [axesFrame({
    xTicks: xTicksA, yTicks: yTicksA, tickLen: 7, xLabelGap: 29, yLabelGap: 12, yTitleGap: 66,
    xTitle: 'Age relative to volcanic tie (year)', letter: ['a', 253, 48],
    legend: { x: 763, y: 47, w: 216, h: 150, first: 24, gap: 35, lw: 3,
      items: legendA.map((l, i) => ({ label: l, color: colorsA[i] })) }
  })]
});

// ---------- chart b ----------
const colorsB = [COLORS.green, COLORS.purple, COLORS.yellow, COLORS.red];
const seriesB = [
  buildSeries(talBase, otherStep, talPeaks),
  buildSeries(dfBase, otherStep, dfPeaks),
  buildSeries(edcBase, otherStep, edcPeaks),
  buildSeries(edmlBase, edmlStep, edmlPeaks)
];
// first dataset is painted last, so EDML goes first to sit on top
const dsB = seriesB.map((d, i) => ({ label: legendB[i], data: d, borderColor: colorsB[i], borderWidth: 2.4, fill: false })).reverse();

new Chart(document.getElementById('chartB'), {
  type: 'line',
  data: { datasets: dsB },
  options: baseOptions({ left: 116, top: 28, right: 24, bottom: 90 }, { min: 10, max: 61, reverse: true }, { min: -4.5, max: 70 }),
  plugins: [axesFrame({
    xTicks: xTicksB, yTicks: yTicksB, tickLen: 10, xLabelGap: 32, yLabelGap: 12, yTitleGap: 68,
    xTitle: 'WD2014 Age (ka BP)', letter: ['b', 11, 48], vlines: tieAges,
    legend: { x: 143, y: 54, w: 157, h: 149, first: 21, gap: 35.7, lw: 2.4,
      items: legendB.map((l, i) => ({ label: l, color: colorsB[i] })) }
  })]
});
</script>
</body>
</html>
